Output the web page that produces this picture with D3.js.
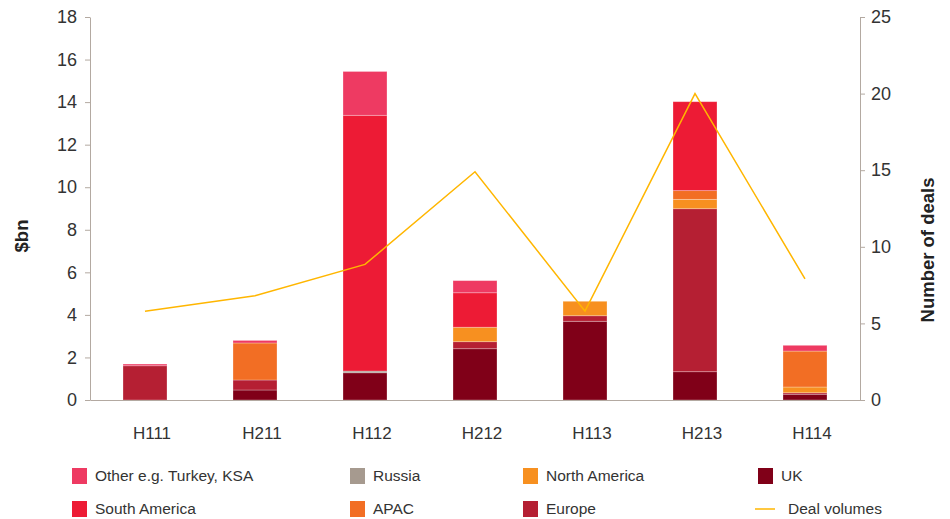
<!DOCTYPE html>
<html>
<head>
<meta charset="utf-8">
<script src="https://cdn.jsdelivr.net/npm/d3@7"></script>
<style>
  body { margin: 0; background: #fff; }
  svg { font-family: "Liberation Sans", Arial, Helvetica, sans-serif; }
  .axis path, .axis line { stroke: #b3a9a1; }
  .axis text { fill: #333; font-size: 18px; }
</style>
</head>
<body>
<script>
//data
var periods = ["H111", "H211", "H112", "H212", "H113", "H213", "H114"];
var regions = ["UK", "Europe", "Russia", "North America", "APAC", "South America", "Other e.g. Turkey, KSA"];
var ukVals      = [0,    0.47, 1.28, 2.41, 3.70, 1.33, 0.27];
var europeVals  = [1.61, 0.47, 0,    0.33, 0.26, 7.66, 0.07];
var russiaVals  = [0,    0,    0.08, 0,    0,    0,    0];
var northAmVals = [0,    0,    0,    0.68, 0.68, 0.44, 0.27];
var apacVals    = [0,    1.74, 0,    0,    0,    0.41, 1.69];
var southAmVals = [0,    0,    12.02, 1.62, 0,   4.18, 0];
var otherVals   = [0.08, 0.12, 2.06, 0.57, 0,    0,    0.27];
var dealCounts  = [5.8, 6.8, 8.85, 14.9, 5.8, 20, 7.9];
var leftTicks = [0, 2, 4, 6, 8, 10, 12, 14, 16, 18];
var rightTicks = [0, 5, 10, 15, 20, 25];

(function(){
var regionColors = {
  "UK": "#800018",
  "Europe": "#b51f33",
  "Russia": "#a69a8f",
  "North America": "#f79020",
  "APAC": "#f26e24",
  "South America": "#ed1b35",
  "Other e.g. Turkey, KSA": "#ee3a62"
};
var lineColor = "#ffb600";

//build one row per period for the stack
var table = periods.map(function(p, i){
  return {
    period: p,
    "UK": ukVals[i],
    "Europe": europeVals[i],
    "Russia": russiaVals[i],
    "North America": northAmVals[i],
    "APAC": apacVals[i],
    "South America": southAmVals[i],
    "Other e.g. Turkey, KSA": otherVals[i]
  };
});

var width = 950, height = 519;
var plotLeft = 90, plotRight = 860, plotTop = 17, plotBottom = 400;

var svg = d3.select("body").append("svg")
  .attr("width", width)
  .attr("height", height);

var x = d3.scaleBand()
  .domain(periods)
  .range([plotLeft, plotRight])
  .paddingInner(0.6)
  .paddingOuter(0.3);

var y = d3.scaleLinear().domain([0, 18]).range([plotBottom, plotTop]);
var y2 = d3.scaleLinear().domain([0, 25]).range([plotBottom, plotTop]);

//stacked bars
var series = d3.stack().keys(regions)(table);
svg.append("g").selectAll("g")
  .data(series)
  .enter().append("g")
  .attr("fill", function(d){ return regionColors[d.key]; })
  .selectAll("rect")
  .data(function(d){ return d; })
  .enter().append("rect")
  .attr("x", function(d){ return x(d.data.period); })
  .attr("width", x.bandwidth())
  .attr("y", function(d){ return y(d[1]); })
  .attr("height", function(d){ return Math.max(0, y(d[0]) - y(d[1])); })
  .attr("stroke", "rgba(255,255,255,0.35)")
  .attr("stroke-width", 0.8);

//left axis
svg.append("g")
  .attr("class", "axis")
  .attr("transform", "translate(" + plotLeft + ",0)")
  .call(d3.axisLeft(y).tickValues(leftTicks).tickSize(5).tickSizeOuter(0).tickPadding(8));

//right axis
svg.append("g")
  .attr("class", "axis")
  .attr("transform", "translate(" + plotRight + ",0)")
  .call(d3.axisRight(y2).tickValues(rightTicks).tickSize(5).tickSizeOuter(0).tickPadding(6));

//bottom axis
var bottomAxis = svg.append("g")
  .attr("class", "axis")
  .attr("transform", "translate(0," + plotBottom + ")")
  .call(d3.axisBottom(x).tickSize(0).tickSizeOuter(0).tickPadding(27));
bottomAxis.selectAll("text")
  .attr("dx", 7)
  .style("font-size", "17px");

//deal volume line
var line = d3.line()
  .x(function(d, i){ return x(periods[i]) + x.bandwidth() / 2; })
  .y(function(d){ return y2(d); });
svg.append("path")
  .datum(dealCounts)
  .attr("fill", "none")
  .attr("stroke", lineColor)
  .attr("stroke-width", 1.5)
  .attr("d", line);

//axis titles
svg.append("text")
  .attr("transform", "translate(28,236) rotate(-90)")
  .attr("text-anchor", "middle")
  .style("font-size", "18.5px")
  .style("font-weight", "bold")
  .attr("fill", "#222")
  .text("$bn");
svg.append("text")
  .attr("transform", "translate(934,250) rotate(-90)")
  .attr("text-anchor", "middle")
  .style("font-size", "18.5px")
  .style("font-weight", "bold")
  .attr("fill", "#222")
  .text("Number of deals");

//legend
var legendItems = [
  {name: "Other e.g. Turkey, KSA", col: 0, row: 0},
  {name: "South America", col: 0, row: 1},
  {name: "Russia", col: 1, row: 0},
  {name: "APAC", col: 1, row: 1},
  {name: "North America", col: 2, row: 0},
  {name: "Europe", col: 2, row: 1},
  {name: "UK", col: 3, row: 0},
  {name: "Deal volumes", col: 3, row: 1, isLine: true}
];
var colX = [72, 350, 523, 758];
var rowY = [476, 509];

var legend = svg.append("g").selectAll("g")
  .data(legendItems)
  .enter().append("g")
  .attr("transform", function(d){ return "translate(" + colX[d.col] + "," + rowY[d.row] + ")"; });

legend.each(function(d){
  var g = d3.select(this);
  if (d.isLine){
    g.append("line")
      .attr("x1", -3).attr("x2", 17)
      .attr("y1", 0).attr("y2", 0)
      .attr("stroke", lineColor)
      .attr("stroke-width", 1.5);
  } else {
    g.append("rect")
      .attr("x", 0).attr("y", -8)
      .attr("width", 15).attr("height", 16)
      .attr("fill", regionColors[d.name]);
  }
  g.append("text")
    .attr("x", d.isLine ? 30 : 23)
    .attr("y", 0)
    .attr("dy", "0.35em")
    .style("font-size", "15.5px")
    .attr("fill", "#333")
    .text(d.name);
});
})();
</script>
</body>
</html>
